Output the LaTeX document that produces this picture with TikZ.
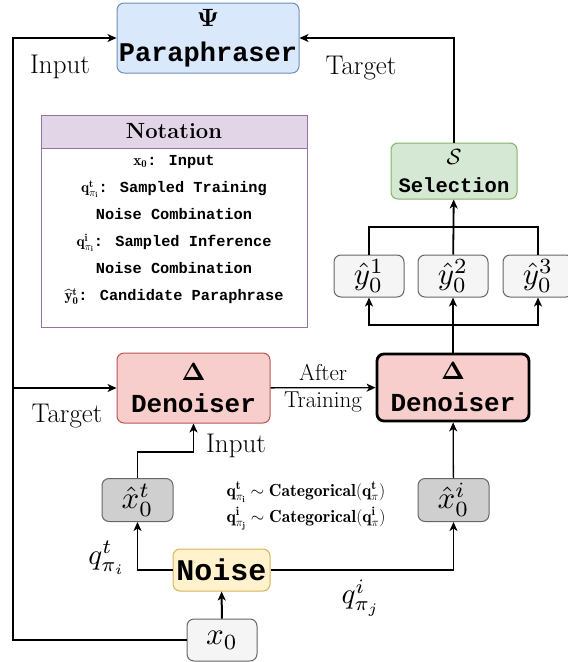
\documentclass[tikz,border=0pt]{standalone}
\usepackage{amsmath}
\usepackage{graphicx}
\usepackage{fontspec}
\newfontfamily\codefont{Liberation Mono}
\usetikzlibrary{arrows.meta}
\newcommand{\mathscaled}[2]{\scalebox{#1}{\fontsize{10}{12}\selectfont$#2$}}
\definecolor{parafill}{HTML}{DAE8FC}
\definecolor{paraline}{HTML}{6C8EBF}
\definecolor{notefill}{HTML}{E1D5E7}
\definecolor{noteline}{HTML}{9673A6}
\definecolor{selfill}{HTML}{D5E8D4}
\definecolor{selline}{HTML}{82B366}
\definecolor{denfill}{HTML}{F8CECC}
\definecolor{denline}{HTML}{B85450}
\definecolor{noisefill}{HTML}{FFF2CC}
\definecolor{noiseline}{HTML}{D6B656}
\definecolor{candfill}{HTML}{F5F5F5}
\definecolor{candline}{HTML}{666666}
\definecolor{hatfill}{HTML}{CFCFCF}
\begin{document}
\begin{tikzpicture}
      [x=1pt, y=-1pt,
       box/.style={draw, rounded corners=7pt, line width=1pt, align=center, inner sep=0pt},
       cand/.style={box, fill=candfill, draw=candline, minimum width=70pt, minimum height=42pt},
       lbl/.style={font=\fontsize{27}{30}\selectfont},
       link/.style={line width=1.3pt, -{Stealth[length=9pt, width=8pt, inset=2.5pt]}},
       wire/.style={line width=1.3pt}]
      \useasboundingbox (0,0) rectangle (568,662);
      % boxes
      \node[box, fill=parafill, draw=paraline, minimum width=182pt, minimum height=70pt, font=\codefont\bfseries\fontsize{27}{30}\selectfont] (para) at (208,38) {\mathscaled{2.5}{\boldsymbol{\Psi}}\\[5pt]Paraphraser};
      \node[draw=noteline, fill=notefill, line width=1pt, minimum width=266pt, minimum height=33pt, font=\bfseries\fontsize{22}{24}\selectfont] (notehead) at (174,131.5) {Notation};
      \node[draw=noteline, line width=1pt, minimum width=266pt, minimum height=179pt, inner sep=0pt] (notebody) at (174,237.5) {};
      \node[align=center, font=\codefont\bfseries\fontsize{15.3}{27}\selectfont] (notes) at (174,230) {$\mathbf{x_0}$: Input\\$\mathbf{q^t_{\pi_i}}$: Sampled Training\\Noise Combination\\$\mathbf{q^i_{\pi_i}}$: Sampled Inference\\Noise Combination\\$\mathbf{\hat{y}^t_0}$: Candidate Paraphrase};
      \node[box, fill=selfill, draw=selline, minimum width=126pt, minimum height=56pt, font=\codefont\bfseries\fontsize{20.5}{24}\selectfont] (sel) at (454,171) {\mathscaled{2.2}{\mathcal{S}}\\[4pt]Selection};
      \node[cand] (y1) at (369,276) {\mathscaled{3.1}{\hat{y}_0^1}};
      \node[cand] (y2) at (453,276) {\mathscaled{3.1}{\hat{y}_0^2}};
      \node[cand] (y3) at (538,276) {\mathscaled{3.1}{\hat{y}_0^3}};
      \node[box, fill=denfill, draw=denline, minimum width=153pt, minimum height=70pt, font=\codefont\bfseries\fontsize{26}{30}\selectfont] (den1) at (193.5,388) {\mathscaled{2.5}{\boldsymbol{\Delta}}\\[2pt]Denoiser};
      \node[box, fill=denfill, draw=black, line width=2.8pt, minimum width=152pt, minimum height=67pt, font=\codefont\bfseries\fontsize{26}{30}\selectfont] (den2) at (453,387.5) {\mathscaled{2.5}{\boldsymbol{\Delta}}\\[2pt]Denoiser};
      \node[cand, fill=hatfill, minimum width=71pt, minimum height=43pt] (xt) at (137.5,500) {\mathscaled{3.1}{\hat{x}_0^t}};
      \node[cand, fill=hatfill, minimum width=71pt, minimum height=43pt] (xi) at (453.5,500) {\mathscaled{3.1}{\hat{x}_0^i}};
      \node[box, fill=noisefill, draw=noiseline, minimum width=97pt, minimum height=42pt, font=\codefont\bfseries\fontsize{30}{34}\selectfont] (noise) at (221.5,570) {Noise};
      \node[cand] (x0) at (222,640) {\mathscaled{3.1}{x_0}};
      % texts
      \node[lbl] (inpara) at (60,67) {Input};
      \node[lbl] (tgpara) at (361,68) {Target};
      \node[lbl] (tgden) at (67,416) {Target};
      \node[lbl] (inden) at (236,446) {Input};
      \node (qt) at (107,558) {\mathscaled{2.9}{q^t_{\pi_i}}};
      \node (qi) at (361,598) {\mathscaled{2.9}{q^i_{\pi_j}}};
      \node[align=left, font=\fontsize{17.5}{26}\selectfont] (cat) at (306,506) {$\mathbf{q^t_{\pi_i}} \sim \mathbf{Categorical(q^t_{\pi})}$\\$\mathbf{q^i_{\pi_j}} \sim \mathbf{Categorical(q^i_{\pi})}$};
      % corners
      \coordinate (lt) at (13,38);
      \coordinate (lm) at (13,388);
      \coordinate (bend) at (193.5,452);
      \coordinate (bus) at (453,325);
      \coordinate (top) at (453,227);
      % connectors
      \draw[link](x0.west) -| (lt) -- (para.west);
      \draw[link](lm) -- (den1.west);
      \draw[link](sel.north) |- (para.east);
      \draw[link](den1) --node[align=center, font=\fontsize{23}{25}\selectfont]{After\\[2pt]Training} (den2);
      \draw[link](xt.north) |- (bend) -- (den1.south);
      \draw[link](xi) -- (den2);
      \draw[link](noise.west) -| (xt.south);
      \draw[link](noise.east) -| (xi.south);
      \draw[link, line width=2pt](x0) -- (noise);
      \draw[wire](den2.north) -- (bus);
      \draw[link, line width=1.8pt](bus) -| (y1.south);
      \draw[link, line width=1.8pt](bus) -| (y3.south);
      \draw[link, line width=1.8pt](bus) -- (y2.south);
      \draw[wire](y1.north) |- (top) -| (y3.north);
      \draw[link, line width=1.8pt](y2) -- (sel);
  \end{tikzpicture}
\end{document}
